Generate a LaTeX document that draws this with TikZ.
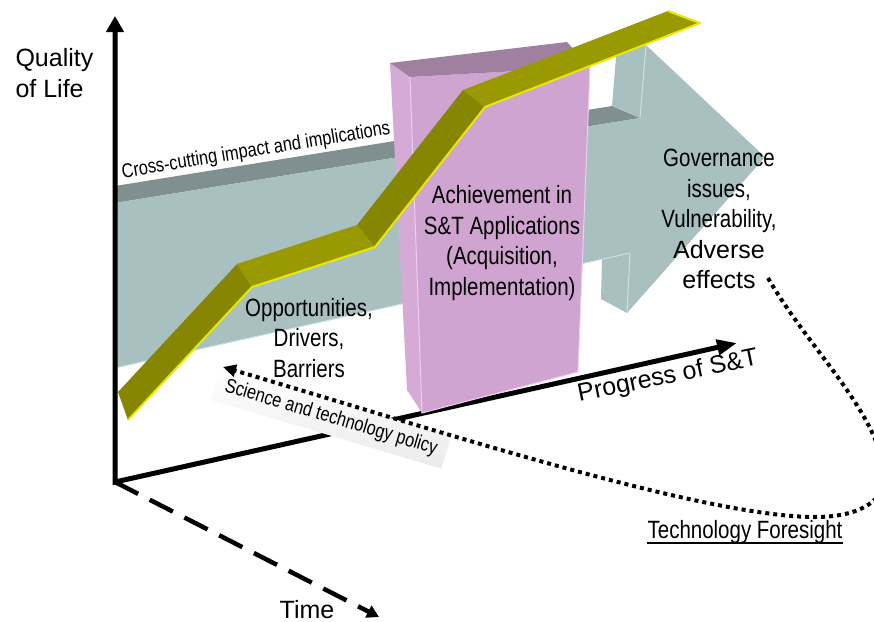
\documentclass[tikz,border=0pt]{standalone}
\usepackage{fontspec}
\setmainfont{Liberation Sans}
\newfontfamily\narrowfont[FakeStretch=0.82]{Liberation Sans}
\usetikzlibrary{positioning, arrows.meta}

\definecolor{tealface}{RGB}{168,192,192}
\definecolor{tealtop}{RGB}{128,143,143}
\definecolor{tealedge}{RGB}{204,226,226}
\definecolor{pinkface}{RGB}{208,164,208}
\definecolor{pinkside}{RGB}{214,170,214}
\definecolor{pinktop}{RGB}{160,128,160}
\definecolor{pinkedge}{RGB}{238,208,238}
\definecolor{oliveflat}{RGB}{153,153,0}
\definecolor{olivesteep}{RGB}{134,134,0}
\definecolor{olivelight}{RGB}{232,232,0}

\begin{document}
\begin{tikzpicture}[x=1pt, y=-1pt,
    font=\fontsize{25}{30.5}\selectfont,
    narrow/.style={font=\narrowfont\fontsize{25}{30.5}\selectfont, align=center},
    smallnarrow/.style={font=\narrowfont\fontsize{20}{24}\selectfont},
    axis/.style={line width=5pt},
    timeaxis/.style={line width=4.5pt, dash pattern=on 26pt off 13pt, -{Triangle[length=12pt,width=13pt]}},
    dotline/.style={line width=4pt, dash pattern=on 4pt off 4pt},
    faceedge/.style={line width=1pt}]

    \useasboundingbox (0,0) rectangle (874,621);
    \clip (0,0) rectangle (874,621);

    % Axis corners
    \coordinate (origin) at (115,482);
    \coordinate (qtop) at (115,16);
    \coordinate (ptip) at (737,343);
    \coordinate (ttip) at (379,617);

    % Big arrow: top face, shoulders, front face
    \fill[tealtop] (115,203) -- (640,118) -- (612,106) -- (115,186) -- cycle;
    \fill[tealface] (640,118) -- (646,45) -- (618,33) -- (612,106) -- cycle;
    \fill[tealface] (630,253) -- (627,313) -- (601,299) -- (602,259) -- cycle;
    \fill[tealface] (115,203) -- (640,118) -- (646,45) -- (765,157) -- (627,313) -- (630,253) -- (115,368) -- cycle;
    \draw[tealedge, faceedge] (640,118) -- (646,45);
    \draw[tealedge, faceedge] (630,253) -- (627,313);
    \draw[tealedge, faceedge] (115,368) -- (630,253);

    % Axes
    \draw[axis, {Triangle[length=16pt,width=17pt]}-{Triangle[length=20pt,width=15pt]}] (qtop) -- (origin) -- (ptip);
    \draw[timeaxis] (origin) -- (ttip);

    % Block
    \fill[pinkside] (390,63) -- (410,77) -- (422,413) -- (407,390) -- cycle;
    \fill[pinkface] (410,77) -- (590,67) -- (578,372) -- (422,413) -- cycle;
    \fill[pinktop] (390,63) -- (567,42) -- (590,67) -- (410,77) -- cycle;
    \draw[pinkedge, faceedge] (410,77) -- (422,413) -- (578,372) -- (590,67);

    % Rising band
    \fill[olivesteep] (118,392) -- (237,264) -- (252,287) -- (128,420) -- cycle;
    \fill[oliveflat] (237,264) -- (357,225) -- (375,247) -- (252,287) -- cycle;
    \fill[olivesteep] (357,225) -- (463,90) -- (485,107) -- (375,247) -- cycle;
    \fill[oliveflat] (463,90) -- (668,11) -- (700,23) -- (485,107) -- cycle;
    \draw[olivelight, line width=2pt, line join=round] (128,420) -- (252,287) -- (375,247) -- (485,107) -- (700,23) -- (668,11);

    % Nodes
    \node (quality) [anchor=west, align=left] at (12,73) {Quality\\of Life};
    \node (crosscut) [smallnarrow, rotate=9.3] at (256,151) {Cross-cutting impact and implications};
    \node (opport) [narrow] at (309,338) {Opportunities,\\Drivers,\\Barriers};
    \node (achieve) [narrow] at (502,243) {Achievement in\\S\&T Applications\\(Acquisition,\\Implementation)};
    \node (govern) [align=center] at (719,219) {{\narrowfont Governance}\\{\narrowfont issues,}\\{\narrowfont Vulnerability,}\\Adverse\\effects};
    \node (progress) [rotate=11.6] at (668,377) {Progress of S\&T};
    \node (time) at (307,610) {Time};
    \node (policy) [smallnarrow, rotate=-16.6, inner xsep=10pt, minimum height=34pt, top color=white, bottom color=black!8] at (331,418) {Science and technology policy};
    \node (foresight) [narrow, anchor=base, inner sep=0pt] at (745,538) {Technology Foresight};

    % Arrows
    \coordinate (fstart) at (768,278);
    \coordinate (ptail) at (223,367);
    \draw[dotline, -{Triangle[length=13pt,width=12pt]}] (fstart) .. controls (810,350) and (872,405) .. (884,468)
        .. controls (890,500) and (860,517) .. (815,517)
        .. controls (700,517) and (420,425) .. (ptail);
    \draw[line width=1.6pt] ([yshift=-5pt]foresight.base west) -- ([yshift=-5pt]foresight.base east);

\end{tikzpicture}
\end{document}
